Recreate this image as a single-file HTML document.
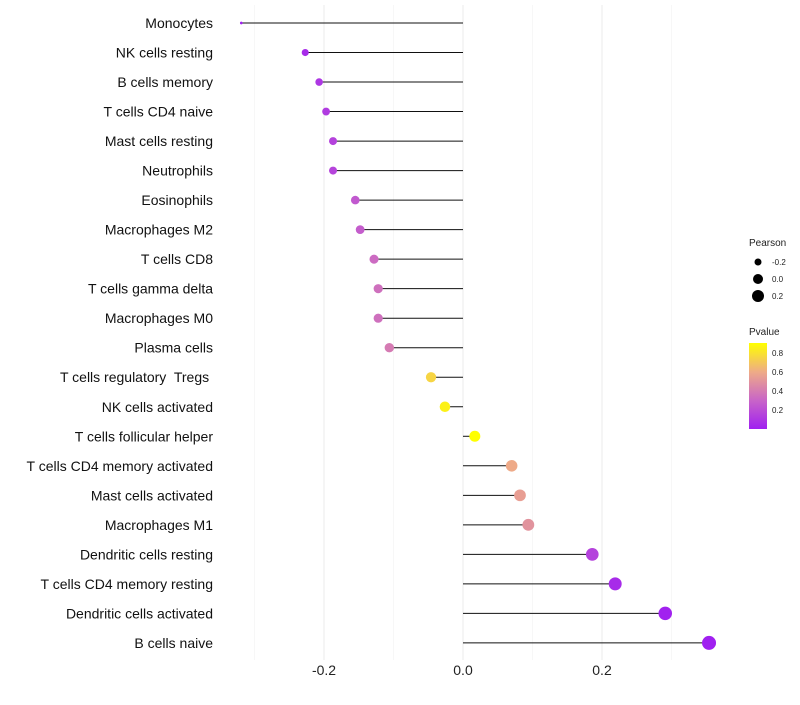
<!DOCTYPE html>
<html><head><meta charset="utf-8"><style>
body{margin:0;background:#fff;font-family:"Liberation Sans",sans-serif}
svg text{font-family:"Liberation Sans",sans-serif;white-space:pre}
</style></head><body>
<svg id="chart" width="800" height="700" xmlns="http://www.w3.org/2000/svg">
<defs><linearGradient id="pg" x1="0" y1="1" x2="0" y2="0">
<stop offset="0" stop-color="#a020f0"/><stop offset="0.33" stop-color="#c864c8"/><stop offset="0.66" stop-color="#eeaa88"/><stop offset="1" stop-color="#ffff00"/></linearGradient></defs>
<g id="grid"></g><g id="marks"></g><g id="ylabels"></g><g id="xlabels"></g>
<g>
<text x="749" y="246" font-size="10" fill="#222">Pearson</text>
<circle cx="758" cy="262" r="3.5" fill="#000"/><text x="772" y="265" font-size="8" fill="#222">-0.2</text>
<circle cx="758" cy="279" r="5" fill="#000"/><text x="772" y="282" font-size="8" fill="#222">0.0</text>
<circle cx="758" cy="296" r="6" fill="#000"/><text x="772" y="299" font-size="8" fill="#222">0.2</text>
<text x="749" y="335" font-size="10" fill="#222">Pvalue</text>
<rect x="749" y="343" width="18" height="86" fill="url(#pg)"/>
<text x="772" y="356" font-size="8" fill="#222">0.8</text>
<text x="772" y="375" font-size="8" fill="#222">0.6</text>
<text x="772" y="394" font-size="8" fill="#222">0.4</text>
<text x="772" y="413" font-size="8" fill="#222">0.2</text>
</g>
</svg>
<script>
const categories=["Monocytes","NK cells resting","B cells memory","T cells CD4 naive","Mast cells resting","Neutrophils","Eosinophils","Macrophages M2","T cells CD8","T cells gamma delta","Macrophages M0","Plasma cells","T cells regulatory  Tregs ","NK cells activated","T cells follicular helper","T cells CD4 memory activated","Mast cells activated","Macrophages M1","Dendritic cells resting","T cells CD4 memory resting","Dendritic cells activated","B cells naive"];
const pearson=[-0.319,-0.227,-0.207,-0.197,-0.187,-0.187,-0.155,-0.148,-0.128,-0.122,-0.122,-0.106,-0.046,-0.026,0.017,0.070,0.082,0.094,0.186,0.219,0.291,0.354];
const pvalue=[0.0,0.05,0.1,0.12,0.15,0.16,0.25,0.27,0.33,0.35,0.35,0.4,0.75,0.85,0.92,0.6,0.55,0.5,0.15,0.05,0.01,0.0];
const xTicks=[-0.2,0,0.2];
const xMinor=[-0.3,-0.1,0.1,0.3];
const NS="http://www.w3.org/2000/svg";
const x=v=>463+v*695;
const y=i=>23+i*29.52;
const rad=v=>8.02*Math.pow(Math.max(0.001,v+0.325),0.35);
function col(p){const st=[[0,[160,32,240]],[0.3,[200,100,200]],[0.6,[238,170,136]],[0.9,[255,255,0]]];p=Math.max(0,Math.min(0.9,p));
for(let k=0;k<st.length-1;k++){if(p<=st[k+1][0]){const t=(p-st[k][0])/(st[k+1][0]-st[k][0]);const a=st[k][1],b=st[k+1][1];return `rgb(${a.map((c,j)=>Math.round(c+(b[j]-c)*t)).join(',')})`;}}return 'rgb(255,255,0)';}
function mk(t,a,p){const e=document.createElementNS(NS,t);for(const k in a)e.setAttribute(k,a[k]);document.getElementById(p).appendChild(e);return e;}
xMinor.forEach(v=>{const l=mk('line',{x1:x(v),x2:x(v),y1:5,y2:660,stroke:'#f2f2f2','stroke-width':0.6},'grid');

});
xTicks.forEach(v=>{const l=mk('line',{x1:x(v),x2:x(v),y1:5,y2:660,stroke:'#ebebeb','stroke-width':1},'grid');


const t=mk('text',{x:x(v),y:675,'text-anchor':'middle','font-size':14,fill:'#222'},'xlabels');t.textContent=v===0?'0.0':v.toFixed(1);

});
categories.forEach((c,i)=>{
const l=mk('line',{x1:x(0),x2:x(pearson[i]),y1:y(i),y2:y(i),stroke:'#111','stroke-width':1},'marks');


const d=mk('circle',{cx:x(pearson[i]),cy:y(i),r:rad(pearson[i]),fill:col(pvalue[i])},'marks');


const t=mk('text',{x:213,y:y(i)+5,'text-anchor':'end','font-size':14,fill:'#111'},'ylabels');t.textContent=c;

});
</script>
</body></html>
